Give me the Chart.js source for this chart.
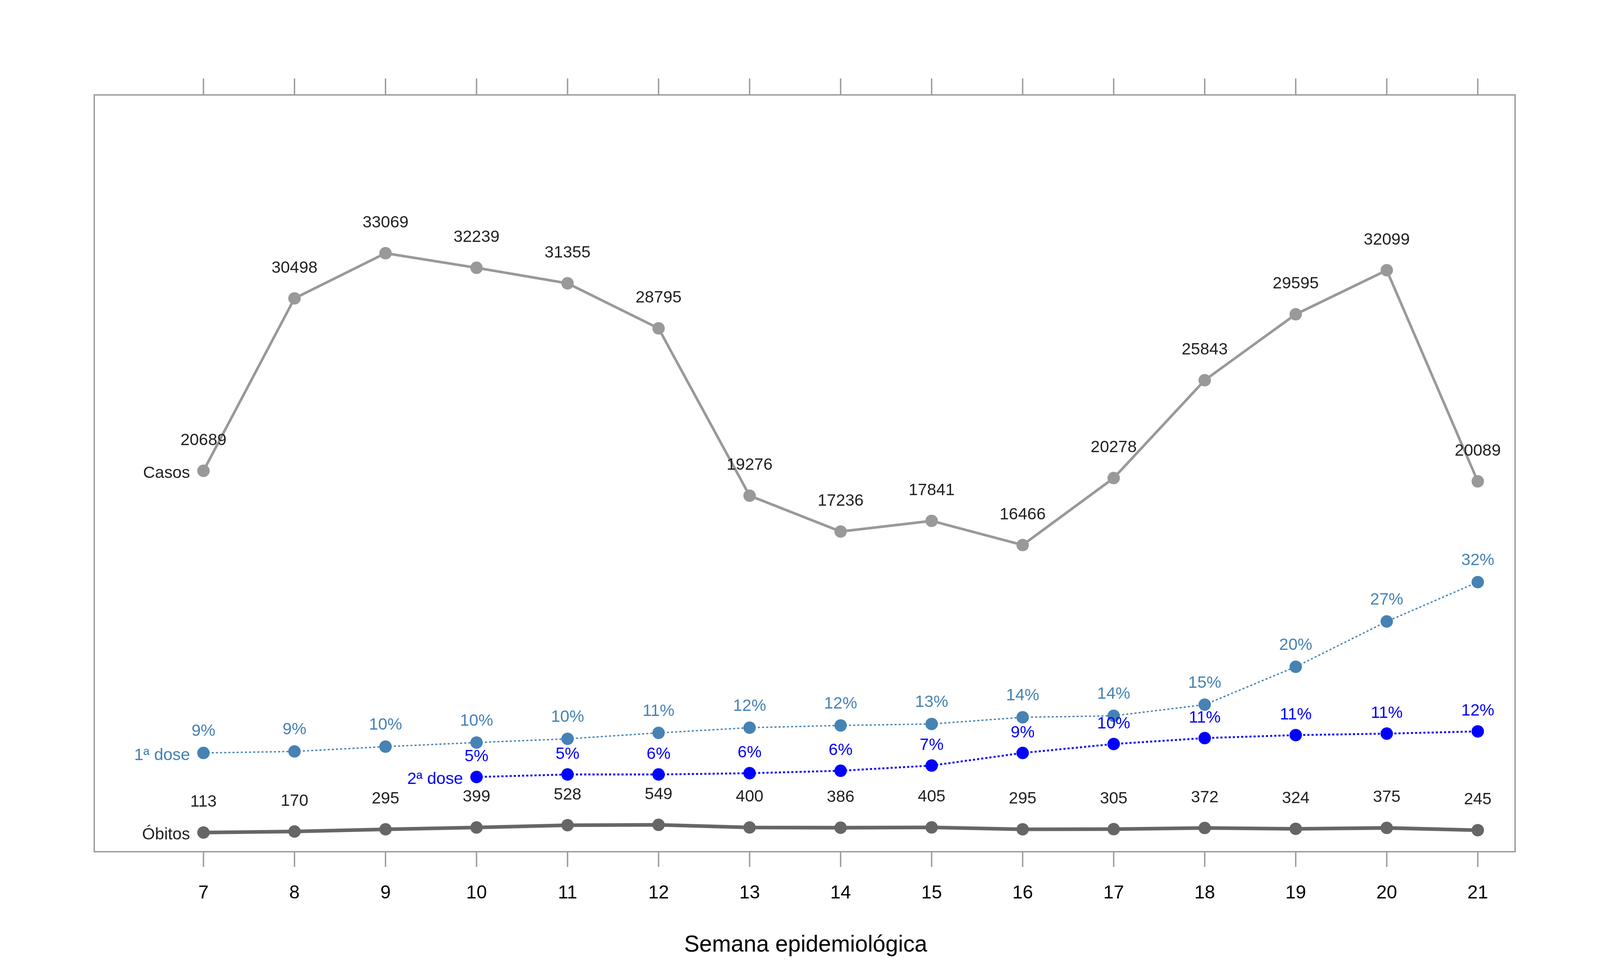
<!DOCTYPE html>
<html>
<head>
<meta charset="utf-8">
<script src="https://cdn.jsdelivr.net/npm/chart.js@4"></script>
<style>
  html, body { margin: 0; padding: 0; background: #fff; overflow: hidden; }
  #wrap { width: 100vw; height: 100vh; position: relative; }
</style>
</head>
<body>
<div id="wrap"><canvas id="chart"></canvas></div>
<script>
// Semanas epidemiológicas
const weeks = [7, 8, 9, 10, 11, 12, 13, 14, 15, 16, 17, 18, 19, 20, 21];

const casos = [20689, 30498, 33069, 32239, 31355, 28795, 19276, 17236, 17841, 16466, 20278, 25843, 29595, 32099, 20089];
const obitos = [113, 170, 295, 399, 528, 549, 400, 386, 405, 295, 305, 372, 324, 375, 245];

// cobertura vacinal (% aproximada) e rótulos mostrados
const dose1 = [9.0, 9.2, 9.85, 10.4, 10.9, 11.7, 12.4, 12.7, 12.9, 13.8, 14.0, 15.5, 20.6, 26.7, 32.0];
const dose1Labels = ['9%', '9%', '10%', '10%', '10%', '11%', '12%', '12%', '13%', '14%', '14%', '15%', '20%', '27%', '32%'];
const dose2 = [null, null, null, 5.76, 6.1, 6.1, 6.27, 6.6, 7.3, 9.0, 10.2, 11.0, 11.4, 11.6, 11.9];
const dose2Labels = ['', '', '', '5%', '5%', '6%', '6%', '6%', '7%', '9%', '10%', '11%', '11%', '11%', '12%'];

// escala em relação à referência (1545 x 772)
const W = window.innerWidth;
const H = window.innerHeight;
const S = W / 1545;
const SY = H / 772;

const toXY = (arr) => weeks.map((w, i) => ({ x: w, y: arr[i] }));

const labelsPlugin = {
    id: 'labelsPlugin',
    afterDraw(chart) {
        const ctx = chart.ctx;
        const area = chart.chartArea;
        const xs = chart.scales.x;
        ctx.save();

        // moldura
        ctx.strokeStyle = '#999';
        ctx.lineWidth = 1.3 * S;
        ctx.strokeRect(area.left, area.top, area.right - area.left, area.bottom - area.top);

        // marcas e rótulos do eixo x
        ctx.fillStyle = '#000';
        ctx.font = (18 * S) + 'px "Liberation Sans", Arial, sans-serif';
        ctx.textAlign = 'center';
        ctx.textBaseline = 'middle';
        weeks.forEach(w => {
            const px = xs.getPixelForValue(w);
            ctx.beginPath();
            ctx.moveTo(px, area.bottom);
            ctx.lineTo(px, area.bottom + 12 * SY);
            ctx.moveTo(px, area.top);
            ctx.lineTo(px, area.top - 13 * SY);
            ctx.stroke();
            ctx.fillText(String(w), px, 706 * SY);
        });
        ctx.font = (22 * S) + 'px "Liberation Sans", Arial, sans-serif';
        ctx.fillText('Semana epidemiológica', 778 * S, 747 * SY);

        // rótulos de dados
        const labelSets = [
            { idx: 0, texts: casos.map(String), color: '#222', dy: -24 },
            { idx: 1, texts: obitos.map(String), color: '#222', dy: -24 },
            { idx: 2, texts: dose1Labels, color: '#4682B4', dy: -17 },
            { idx: 3, texts: dose2Labels, color: '#0000FF', dy: -16 }
        ];
        ctx.font = (16 * S) + 'px "Liberation Sans", Arial, sans-serif';
        labelSets.forEach(set => {
            const meta = chart.getDatasetMeta(set.idx);
            ctx.fillStyle = set.color;
            ctx.textAlign = 'center';
            meta.data.forEach((pt, i) => {
                if (!set.texts[i] || pt.skip) return;
                ctx.fillText(set.texts[i], pt.x, pt.y + set.dy * SY);
            });
        });

        // nomes das séries
        const names = [
            { idx: 0, text: 'Casos', color: '#222', first: 0 },
            { idx: 1, text: 'Óbitos', color: '#222', first: 0 },
            { idx: 2, text: '1ª dose', color: '#4682B4', first: 0 },
            { idx: 3, text: '2ª dose', color: '#0000FF', first: 3 }
        ];
        ctx.textAlign = 'right';
        names.forEach(n => {
            const pt = chart.getDatasetMeta(n.idx).data[n.first];
            ctx.fillStyle = n.color;
            ctx.fillText(n.text, pt.x - 13 * S, pt.y + 2 * SY);
        });
        ctx.restore();
    }
};

new Chart(document.getElementById('chart'), {
    type: 'line',
    data: {
        datasets: [
            {
                data: toXY(casos), yAxisID: 'y',
                borderColor: '#999', backgroundColor: '#999', pointBackgroundColor: '#999',
                borderWidth: 2.5 * S, pointRadius: 6 * S, pointBorderWidth: 0
            },
            {
                data: toXY(obitos), yAxisID: 'y',
                borderColor: '#666', backgroundColor: '#666', pointBackgroundColor: '#666',
                borderWidth: 3.5 * S, pointRadius: 6 * S, pointBorderWidth: 0
            },
            {
                data: toXY(dose1), yAxisID: 'pct',
                borderColor: '#4682B4', backgroundColor: '#4682B4', pointBackgroundColor: '#4682B4',
                borderWidth: 1.3 * S, borderDash: [2 * S, 2 * S], pointRadius: 6 * S, pointBorderWidth: 0
            },
            {
                data: toXY(dose2), yAxisID: 'pct',
                borderColor: '#0000FF', backgroundColor: '#0000FF', pointBackgroundColor: '#0000FF',
                borderWidth: 1.8 * S, borderDash: [2 * S, 2 * S], pointRadius: 6 * S, pointBorderWidth: 0
            }
        ]
    },
    options: {
        responsive: true,
        maintainAspectRatio: false,
        animation: false,
        layout: { padding: { left: 91 * S, right: 82 * S, top: 75 * SY, bottom: 99 * SY } },
        plugins: { legend: { display: false }, tooltip: { enabled: false } },
        scales: {
            x: { type: 'linear', min: 5.8, max: 21.41, display: false },
            y: { min: -979, max: 42073, display: false },
            pct: { min: -4.3, max: 97.6, display: false }
        }
    },
    plugins: [labelsPlugin]
});
</script>
</body>
</html>
